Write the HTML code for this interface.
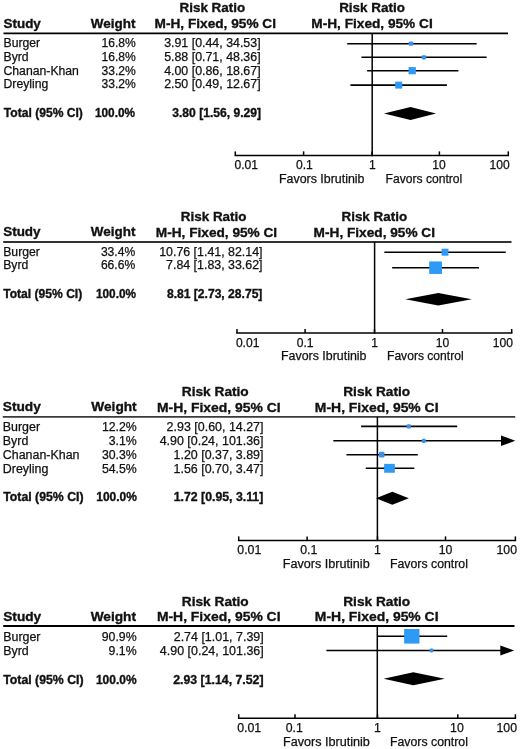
<!DOCTYPE html>
<html><head><meta charset="utf-8"><style>
html,body{margin:0;padding:0;background:#fff;overflow:hidden;}
svg{display:block;will-change:transform;}
text{font-family:"Liberation Sans", sans-serif;fill:#111;}
</style></head><body>
<svg width="520" height="749" viewBox="0 0 520 749">
<rect width="520" height="749" fill="#fff"/>
<text x="179.50" y="12.40" font-size="13.45" font-weight="bold" stroke="#111" stroke-width="0.35">Risk Ratio</text>
<text x="154.60" y="28.00" font-size="13.45" font-weight="bold" stroke="#111" stroke-width="0.35" textLength="121.37" lengthAdjust="spacingAndGlyphs">M-H, Fixed, 95% CI</text>
<text x="372.00" y="12.40" font-size="13.45" font-weight="bold" stroke="#111" stroke-width="0.35" text-anchor="middle">Risk Ratio</text>
<text x="372.00" y="28.00" font-size="13.45" font-weight="bold" stroke="#111" stroke-width="0.35" text-anchor="middle" textLength="121.37" lengthAdjust="spacingAndGlyphs">M-H, Fixed, 95% CI</text>
<text x="3.50" y="28.00" font-size="13.45" font-weight="bold" stroke="#111" stroke-width="0.35">Study</text>
<text x="135.40" y="28.00" font-size="13.45" font-weight="bold" stroke="#111" stroke-width="0.35" text-anchor="end">Weight</text>
<line x1="3.50" y1="33.30" x2="508.00" y2="33.30" stroke="#000" stroke-width="1.8"/>
<text x="3.50" y="47.00" font-size="12.1" stroke="#111" stroke-width="0.25" textLength="36.68" lengthAdjust="spacingAndGlyphs">Burger</text>
<text x="135.80" y="47.00" font-size="12.1" stroke="#111" stroke-width="0.25" text-anchor="end">16.8%</text>
<text x="260.60" y="47.00" font-size="12.1" stroke="#111" stroke-width="0.25" text-anchor="end" textLength="96.45" lengthAdjust="spacingAndGlyphs">3.91 [0.44, 34.53]</text>
<line x1="347.25" y1="43.70" x2="476.66" y2="43.70" stroke="#000" stroke-width="1.6"/>
<rect x="408.60" y="41.60" width="4.80" height="4.20" rx="1.4" fill="#3a8fe8"/>
<text x="3.50" y="61.00" font-size="12.1" stroke="#111" stroke-width="0.25" textLength="25.13" lengthAdjust="spacingAndGlyphs">Byrd</text>
<text x="135.80" y="61.00" font-size="12.1" stroke="#111" stroke-width="0.25" text-anchor="end">16.8%</text>
<text x="260.60" y="61.00" font-size="12.1" stroke="#111" stroke-width="0.25" text-anchor="end" textLength="96.45" lengthAdjust="spacingAndGlyphs">5.88 [0.71, 48.36]</text>
<line x1="361.44" y1="57.30" x2="486.65" y2="57.30" stroke="#000" stroke-width="1.6"/>
<rect x="421.50" y="55.20" width="4.80" height="4.20" rx="1.4" fill="#3a8fe8"/>
<text x="3.50" y="75.00" font-size="12.1" stroke="#111" stroke-width="0.25" textLength="75.42" lengthAdjust="spacingAndGlyphs">Chanan-Khan</text>
<text x="135.80" y="75.00" font-size="12.1" stroke="#111" stroke-width="0.25" text-anchor="end">33.2%</text>
<text x="260.60" y="75.00" font-size="12.1" stroke="#111" stroke-width="0.25" text-anchor="end" textLength="96.45" lengthAdjust="spacingAndGlyphs">4.00 [0.86, 18.67]</text>
<line x1="367.13" y1="70.70" x2="458.42" y2="70.70" stroke="#000" stroke-width="1.6"/>
<rect x="408.55" y="67.10" width="7.30" height="7.20" fill="#2e9af6"/>
<text x="3.50" y="88.00" font-size="12.1" stroke="#111" stroke-width="0.25" textLength="44.83" lengthAdjust="spacingAndGlyphs">Dreyling</text>
<text x="135.80" y="88.00" font-size="12.1" stroke="#111" stroke-width="0.25" text-anchor="end">33.2%</text>
<text x="260.60" y="88.00" font-size="12.1" stroke="#111" stroke-width="0.25" text-anchor="end" textLength="96.45" lengthAdjust="spacingAndGlyphs">2.50 [0.49, 12.67]</text>
<line x1="350.44" y1="85.10" x2="446.92" y2="85.10" stroke="#000" stroke-width="1.6"/>
<rect x="395.20" y="81.60" width="7.00" height="7.00" fill="#2e9af6"/>
<text x="3.80" y="117.00" font-size="12.1" font-weight="bold" stroke="#111" stroke-width="0.35">Total (95% CI)</text>
<text x="135.00" y="117.00" font-size="12.1" font-weight="bold" stroke="#111" stroke-width="0.35" text-anchor="end" textLength="40.01" lengthAdjust="spacingAndGlyphs">100.0%</text>
<text x="261.00" y="117.00" font-size="12.1" font-weight="bold" stroke="#111" stroke-width="0.35" text-anchor="end">3.80 [1.56, 9.29]</text>
<polygon points="384.00,113.50 410.50,107.00 436.00,113.50 410.50,120.00" fill="#000"/>
<line x1="372.20" y1="33.30" x2="372.20" y2="156.15" stroke="#000" stroke-width="1.5"/>
<line x1="234.55" y1="155.40" x2="509.05" y2="155.40" stroke="#000" stroke-width="1.5"/>
<line x1="235.30" y1="155.40" x2="235.30" y2="151.40" stroke="#000" stroke-width="1.5"/>
<line x1="303.60" y1="155.40" x2="303.60" y2="151.40" stroke="#000" stroke-width="1.5"/>
<line x1="372.00" y1="155.40" x2="372.00" y2="151.40" stroke="#000" stroke-width="1.5"/>
<line x1="439.40" y1="155.40" x2="439.40" y2="151.40" stroke="#000" stroke-width="1.5"/>
<line x1="508.30" y1="155.40" x2="508.30" y2="151.40" stroke="#000" stroke-width="1.5"/>
<text x="234.50" y="169.00" font-size="12.1" stroke="#111" stroke-width="0.25">0.01</text>
<text x="304.40" y="169.00" font-size="12.1" stroke="#111" stroke-width="0.25" text-anchor="middle">0.1</text>
<text x="372.30" y="169.00" font-size="12.1" stroke="#111" stroke-width="0.25" text-anchor="middle">1</text>
<text x="438.90" y="169.00" font-size="12.1" stroke="#111" stroke-width="0.25" text-anchor="middle">10</text>
<text x="509.80" y="169.00" font-size="12.1" stroke="#111" stroke-width="0.25" text-anchor="end">100</text>
<text x="279.00" y="183.00" font-size="12.1" stroke="#111" stroke-width="0.25" textLength="85.47" lengthAdjust="spacingAndGlyphs">Favors Ibrutinib</text>
<text x="385.60" y="183.00" font-size="12.1" stroke="#111" stroke-width="0.25">Favors control</text>
<text x="180.80" y="221.00" font-size="13.45" font-weight="bold" stroke="#111" stroke-width="0.35">Risk Ratio</text>
<text x="155.80" y="237.00" font-size="13.45" font-weight="bold" stroke="#111" stroke-width="0.35" textLength="121.37" lengthAdjust="spacingAndGlyphs">M-H, Fixed, 95% CI</text>
<text x="374.30" y="221.00" font-size="13.45" font-weight="bold" stroke="#111" stroke-width="0.35" text-anchor="middle">Risk Ratio</text>
<text x="374.30" y="237.00" font-size="13.45" font-weight="bold" stroke="#111" stroke-width="0.35" text-anchor="middle" textLength="121.37" lengthAdjust="spacingAndGlyphs">M-H, Fixed, 95% CI</text>
<text x="3.20" y="236.00" font-size="13.45" font-weight="bold" stroke="#111" stroke-width="0.35">Study</text>
<text x="135.40" y="236.00" font-size="13.45" font-weight="bold" stroke="#111" stroke-width="0.35" text-anchor="end">Weight</text>
<line x1="3.20" y1="242.00" x2="511.50" y2="242.00" stroke="#333" stroke-width="1.8"/>
<text x="3.20" y="256.00" font-size="12.1" stroke="#111" stroke-width="0.25" textLength="36.68" lengthAdjust="spacingAndGlyphs">Burger</text>
<text x="135.20" y="256.00" font-size="12.1" stroke="#111" stroke-width="0.25" text-anchor="end">33.4%</text>
<text x="262.50" y="256.00" font-size="12.1" stroke="#111" stroke-width="0.25" text-anchor="end" textLength="103.34" lengthAdjust="spacingAndGlyphs">10.76 [1.41, 82.14]</text>
<line x1="384.36" y1="252.20" x2="505.73" y2="252.20" stroke="#000" stroke-width="1.6"/>
<rect x="441.64" y="248.70" width="6.80" height="7.00" fill="#2e9af6"/>
<text x="3.20" y="269.40" font-size="12.1" stroke="#111" stroke-width="0.25" textLength="25.13" lengthAdjust="spacingAndGlyphs">Byrd</text>
<text x="135.20" y="269.40" font-size="12.1" stroke="#111" stroke-width="0.25" text-anchor="end">66.6%</text>
<text x="262.50" y="269.40" font-size="12.1" stroke="#111" stroke-width="0.25" text-anchor="end" textLength="96.45" lengthAdjust="spacingAndGlyphs">7.84 [1.83, 33.62]</text>
<line x1="392.14" y1="267.70" x2="479.05" y2="267.70" stroke="#000" stroke-width="1.6"/>
<rect x="429.18" y="261.45" width="12.80" height="12.50" fill="#2e9af6"/>
<text x="3.20" y="297.60" font-size="12.1" font-weight="bold" stroke="#111" stroke-width="0.35">Total (95% CI)</text>
<text x="136.00" y="297.60" font-size="12.1" font-weight="bold" stroke="#111" stroke-width="0.35" text-anchor="end" textLength="40.01" lengthAdjust="spacingAndGlyphs">100.0%</text>
<text x="262.40" y="297.60" font-size="12.1" font-weight="bold" stroke="#111" stroke-width="0.35" text-anchor="end">8.81 [2.73, 28.75]</text>
<polygon points="405.30,299.30 438.30,293.10 471.80,299.30 438.30,305.50" fill="#000"/>
<line x1="374.60" y1="242.00" x2="374.60" y2="333.75" stroke="#000" stroke-width="1.5"/>
<line x1="236.25" y1="333.00" x2="512.45" y2="333.00" stroke="#000" stroke-width="1.5"/>
<line x1="237.00" y1="333.00" x2="237.00" y2="329.00" stroke="#000" stroke-width="1.5"/>
<line x1="305.10" y1="333.00" x2="305.10" y2="329.00" stroke="#000" stroke-width="1.5"/>
<line x1="374.50" y1="333.00" x2="374.50" y2="329.00" stroke="#000" stroke-width="1.5"/>
<line x1="442.50" y1="333.00" x2="442.50" y2="329.00" stroke="#000" stroke-width="1.5"/>
<line x1="511.70" y1="333.00" x2="511.70" y2="329.00" stroke="#000" stroke-width="1.5"/>
<text x="235.90" y="346.60" font-size="12.1" stroke="#111" stroke-width="0.25">0.01</text>
<text x="305.10" y="346.60" font-size="12.1" stroke="#111" stroke-width="0.25" text-anchor="middle">0.1</text>
<text x="374.50" y="346.60" font-size="12.1" stroke="#111" stroke-width="0.25" text-anchor="middle">1</text>
<text x="442.50" y="346.60" font-size="12.1" stroke="#111" stroke-width="0.25" text-anchor="middle">10</text>
<text x="513.00" y="346.60" font-size="12.1" stroke="#111" stroke-width="0.25" text-anchor="end">100</text>
<text x="281.00" y="360.40" font-size="12.1" stroke="#111" stroke-width="0.25" textLength="85.47" lengthAdjust="spacingAndGlyphs">Favors Ibrutinib</text>
<text x="387.00" y="360.40" font-size="12.1" stroke="#111" stroke-width="0.25">Favors control</text>
<text x="181.80" y="396.00" font-size="13.7" font-weight="bold" stroke="#111" stroke-width="0.35">Risk Ratio</text>
<text x="157.00" y="411.70" font-size="13.7" font-weight="bold" stroke="#111" stroke-width="0.35" textLength="123.63" lengthAdjust="spacingAndGlyphs">M-H, Fixed, 95% CI</text>
<text x="376.70" y="396.00" font-size="13.7" font-weight="bold" stroke="#111" stroke-width="0.35" text-anchor="middle">Risk Ratio</text>
<text x="376.70" y="411.70" font-size="13.7" font-weight="bold" stroke="#111" stroke-width="0.35" text-anchor="middle" textLength="123.63" lengthAdjust="spacingAndGlyphs">M-H, Fixed, 95% CI</text>
<text x="2.80" y="411.00" font-size="13.7" font-weight="bold" stroke="#111" stroke-width="0.35">Study</text>
<text x="136.70" y="411.00" font-size="13.7" font-weight="bold" stroke="#111" stroke-width="0.35" text-anchor="end">Weight</text>
<line x1="2.80" y1="416.80" x2="515.20" y2="416.80" stroke="#3a3a3a" stroke-width="1.8"/>
<text x="2.80" y="431.00" font-size="12.3" stroke="#111" stroke-width="0.25" textLength="37.29" lengthAdjust="spacingAndGlyphs">Burger</text>
<text x="136.80" y="431.00" font-size="12.3" stroke="#111" stroke-width="0.25" text-anchor="end">12.2%</text>
<text x="263.50" y="431.00" font-size="12.3" stroke="#111" stroke-width="0.25" text-anchor="end" textLength="96.89" lengthAdjust="spacingAndGlyphs">2.93 [0.60, 14.27]</text>
<line x1="361.11" y1="426.40" x2="457.18" y2="426.40" stroke="#000" stroke-width="1.6"/>
<rect x="406.60" y="424.20" width="4.40" height="4.40" rx="1.4" fill="#3a8fe8"/>
<text x="2.80" y="445.00" font-size="12.3" stroke="#111" stroke-width="0.25" textLength="25.54" lengthAdjust="spacingAndGlyphs">Byrd</text>
<text x="136.80" y="445.00" font-size="12.3" stroke="#111" stroke-width="0.25" text-anchor="end">3.1%</text>
<text x="263.50" y="445.00" font-size="12.3" stroke="#111" stroke-width="0.25" text-anchor="end" textLength="103.82" lengthAdjust="spacingAndGlyphs">4.90 [0.24, 101.36]</text>
<line x1="333.34" y1="440.80" x2="502.00" y2="440.80" stroke="#000" stroke-width="1.6"/>
<polygon points="501.00,435.50 515.20,440.80 501.00,446.10" fill="#000"/>
<rect x="421.70" y="438.70" width="4.20" height="4.20" rx="1.4" fill="#3a8fe8"/>
<text x="2.80" y="459.00" font-size="12.3" stroke="#111" stroke-width="0.25" textLength="76.67" lengthAdjust="spacingAndGlyphs">Chanan-Khan</text>
<text x="136.80" y="459.00" font-size="12.3" stroke="#111" stroke-width="0.25" text-anchor="end">30.3%</text>
<text x="263.50" y="459.00" font-size="12.3" stroke="#111" stroke-width="0.25" text-anchor="end" textLength="89.97" lengthAdjust="spacingAndGlyphs">1.20 [0.37, 3.89]</text>
<line x1="346.46" y1="454.70" x2="417.78" y2="454.70" stroke="#000" stroke-width="1.6"/>
<rect x="378.95" y="451.85" width="5.50" height="5.70" rx="1.4" fill="#3a8fe8"/>
<text x="2.80" y="472.60" font-size="12.3" stroke="#111" stroke-width="0.25" textLength="45.57" lengthAdjust="spacingAndGlyphs">Dreyling</text>
<text x="136.80" y="472.60" font-size="12.3" stroke="#111" stroke-width="0.25" text-anchor="end">54.5%</text>
<text x="263.50" y="472.60" font-size="12.3" stroke="#111" stroke-width="0.25" text-anchor="end" textLength="89.97" lengthAdjust="spacingAndGlyphs">1.56 [0.70, 3.47]</text>
<line x1="365.79" y1="468.30" x2="414.31" y2="468.30" stroke="#000" stroke-width="1.6"/>
<rect x="384.15" y="463.85" width="10.70" height="8.90" fill="#2e9af6"/>
<text x="3.20" y="501.00" font-size="12.3" font-weight="bold" stroke="#111" stroke-width="0.35">Total (95% CI)</text>
<text x="136.90" y="501.00" font-size="12.3" font-weight="bold" stroke="#111" stroke-width="0.35" text-anchor="end" textLength="40.67" lengthAdjust="spacingAndGlyphs">100.0%</text>
<text x="263.30" y="501.00" font-size="12.3" font-weight="bold" stroke="#111" stroke-width="0.35" text-anchor="end">1.72 [0.95, 3.11]</text>
<polygon points="376.00,498.30 392.30,491.80 408.80,498.30 392.30,504.80" fill="#000"/>
<line x1="377.40" y1="416.80" x2="377.40" y2="541.15" stroke="#000" stroke-width="1.5"/>
<line x1="237.95" y1="540.40" x2="516.15" y2="540.40" stroke="#000" stroke-width="1.5"/>
<line x1="238.70" y1="540.40" x2="238.70" y2="536.40" stroke="#000" stroke-width="1.5"/>
<line x1="307.10" y1="540.40" x2="307.10" y2="536.40" stroke="#000" stroke-width="1.5"/>
<line x1="377.50" y1="540.40" x2="377.50" y2="536.40" stroke="#000" stroke-width="1.5"/>
<line x1="445.50" y1="540.40" x2="445.50" y2="536.40" stroke="#000" stroke-width="1.5"/>
<line x1="515.40" y1="540.40" x2="515.40" y2="536.40" stroke="#000" stroke-width="1.5"/>
<text x="237.30" y="554.00" font-size="12.3" stroke="#111" stroke-width="0.25">0.01</text>
<text x="308.70" y="554.00" font-size="12.3" stroke="#111" stroke-width="0.25" text-anchor="middle">0.1</text>
<text x="377.50" y="554.00" font-size="12.3" stroke="#111" stroke-width="0.25" text-anchor="middle">1</text>
<text x="445.50" y="554.00" font-size="12.3" stroke="#111" stroke-width="0.25" text-anchor="middle">10</text>
<text x="517.00" y="554.00" font-size="12.3" stroke="#111" stroke-width="0.25" text-anchor="end">100</text>
<text x="282.80" y="568.00" font-size="12.3" stroke="#111" stroke-width="0.25" textLength="86.89" lengthAdjust="spacingAndGlyphs">Favors Ibrutinib</text>
<text x="390.00" y="568.00" font-size="12.3" stroke="#111" stroke-width="0.25">Favors control</text>
<text x="181.80" y="605.60" font-size="13.7" font-weight="bold" stroke="#111" stroke-width="0.35">Risk Ratio</text>
<text x="156.90" y="621.00" font-size="13.7" font-weight="bold" stroke="#111" stroke-width="0.35" textLength="123.63" lengthAdjust="spacingAndGlyphs">M-H, Fixed, 95% CI</text>
<text x="376.70" y="605.60" font-size="13.7" font-weight="bold" stroke="#111" stroke-width="0.35" text-anchor="middle">Risk Ratio</text>
<text x="376.70" y="621.00" font-size="13.7" font-weight="bold" stroke="#111" stroke-width="0.35" text-anchor="middle" textLength="123.63" lengthAdjust="spacingAndGlyphs">M-H, Fixed, 95% CI</text>
<text x="3.20" y="621.40" font-size="13.7" font-weight="bold" stroke="#111" stroke-width="0.35">Study</text>
<text x="136.00" y="621.40" font-size="13.7" font-weight="bold" stroke="#111" stroke-width="0.35" text-anchor="end">Weight</text>
<line x1="3.20" y1="626.00" x2="514.50" y2="626.00" stroke="#000" stroke-width="1.8"/>
<text x="3.20" y="640.60" font-size="12.3" stroke="#111" stroke-width="0.25" textLength="37.29" lengthAdjust="spacingAndGlyphs">Burger</text>
<text x="136.60" y="640.60" font-size="12.3" stroke="#111" stroke-width="0.25" text-anchor="end">90.9%</text>
<text x="263.70" y="640.60" font-size="12.3" stroke="#111" stroke-width="0.25" text-anchor="end" textLength="89.97" lengthAdjust="spacingAndGlyphs">2.74 [1.01, 7.39]</text>
<line x1="377.85" y1="636.30" x2="447.25" y2="636.30" stroke="#000" stroke-width="1.6"/>
<rect x="404.15" y="629.00" width="15.30" height="14.60" fill="#2e9af6"/>
<text x="3.20" y="654.60" font-size="12.3" stroke="#111" stroke-width="0.25" textLength="25.54" lengthAdjust="spacingAndGlyphs">Byrd</text>
<text x="136.60" y="654.60" font-size="12.3" stroke="#111" stroke-width="0.25" text-anchor="end">9.1%</text>
<text x="263.70" y="654.60" font-size="12.3" stroke="#111" stroke-width="0.25" text-anchor="end" textLength="103.82" lengthAdjust="spacingAndGlyphs">4.90 [0.24, 101.36]</text>
<line x1="326.37" y1="650.50" x2="501.30" y2="650.50" stroke="#000" stroke-width="1.6"/>
<polygon points="500.30,645.50 514.20,650.50 500.30,655.50" fill="#000"/>
<rect x="429.50" y="648.50" width="4.00" height="4.00" rx="1.4" fill="#3a8fe8"/>
<text x="3.20" y="683.80" font-size="12.3" font-weight="bold" stroke="#111" stroke-width="0.35">Total (95% CI)</text>
<text x="136.60" y="683.80" font-size="12.3" font-weight="bold" stroke="#111" stroke-width="0.35" text-anchor="end" textLength="40.67" lengthAdjust="spacingAndGlyphs">100.0%</text>
<text x="263.50" y="683.80" font-size="12.3" font-weight="bold" stroke="#111" stroke-width="0.35" text-anchor="end">2.93 [1.14, 7.52]</text>
<polygon points="383.60,678.80 413.30,672.30 444.80,678.80 413.30,685.30" fill="#000"/>
<line x1="377.30" y1="626.00" x2="377.30" y2="718.95" stroke="#000" stroke-width="1.5"/>
<line x1="237.95" y1="718.20" x2="516.15" y2="718.20" stroke="#000" stroke-width="1.5"/>
<line x1="238.70" y1="718.20" x2="238.70" y2="714.20" stroke="#000" stroke-width="1.5"/>
<line x1="295.00" y1="718.20" x2="295.00" y2="714.20" stroke="#000" stroke-width="1.5"/>
<line x1="377.50" y1="718.20" x2="377.50" y2="714.20" stroke="#000" stroke-width="1.5"/>
<line x1="457.80" y1="718.20" x2="457.80" y2="714.20" stroke="#000" stroke-width="1.5"/>
<line x1="515.40" y1="718.20" x2="515.40" y2="714.20" stroke="#000" stroke-width="1.5"/>
<text x="237.20" y="732.00" font-size="12.3" stroke="#111" stroke-width="0.25">0.01</text>
<text x="294.20" y="732.00" font-size="12.3" stroke="#111" stroke-width="0.25" text-anchor="middle">0.1</text>
<text x="377.50" y="732.00" font-size="12.3" stroke="#111" stroke-width="0.25" text-anchor="middle">1</text>
<text x="456.90" y="732.00" font-size="12.3" stroke="#111" stroke-width="0.25" text-anchor="middle">10</text>
<text x="517.00" y="732.00" font-size="12.3" stroke="#111" stroke-width="0.25" text-anchor="end">100</text>
<text x="283.00" y="746.40" font-size="12.3" stroke="#111" stroke-width="0.25" textLength="86.89" lengthAdjust="spacingAndGlyphs">Favors Ibrutinib</text>
<text x="390.00" y="746.40" font-size="12.3" stroke="#111" stroke-width="0.25">Favors control</text>
</svg>
</body></html>
